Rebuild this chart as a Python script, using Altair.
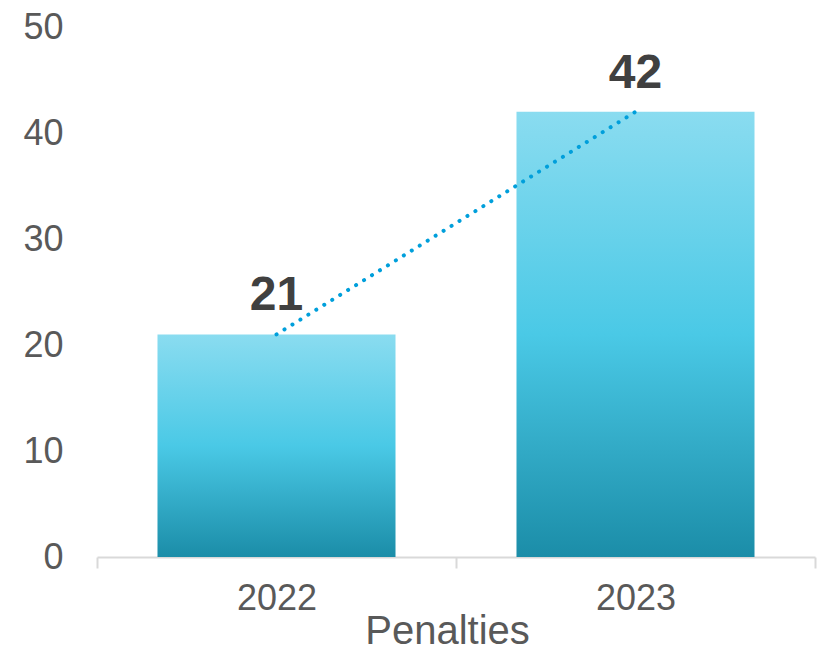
import altair as alt
import pandas as pd

years = ["2022", "2023"]
values = [21, 42]
y_ticks = [0, 10, 20, 30, 40, 50]

df = pd.DataFrame({"year": years, "value": values})

grad = alt.Gradient(
    gradient="linear",
    x1=0, x2=0, y1=0, y2=1,
    stops=[
        alt.GradientStop(color="#8ADCF0", offset=0),
        alt.GradientStop(color="#4AC9E6", offset=0.5),
        alt.GradientStop(color="#1B8DA8", offset=1),
    ],
)

x_enc = alt.X(
    "year:N",
    scale=alt.Scale(paddingInner=0, paddingOuter=0),
    axis=alt.Axis(
        title="Penalties",
        labelAngle=0,
        labelFont="Liberation Sans",
        labelFontSize=36,
        labelColor="#595959",
        labelPadding=13,
        titleFont="Liberation Sans",
        titleFontSize=40,
        titleFontWeight="normal",
        titleColor="#595959",
        titlePadding=-5,
        titleX=350,
        domainColor="#D9D9D9",
        domainWidth=2,
        tickColor="#D9D9D9",
        tickWidth=2,
        tickSize=11,
        tickBand="extent",
    ),
)
y_enc = alt.Y(
    "value:Q",
    scale=alt.Scale(domain=[0, 50]),
    axis=alt.Axis(
        title=None,
        values=y_ticks,
        grid=False,
        domain=False,
        ticks=False,
        labelFont="Liberation Sans",
        labelFontSize=36,
        labelColor="#595959",
        labelPadding=34,
    ),
)

base = alt.Chart(df).encode(x=x_enc, y=y_enc)

bars = base.mark_bar(width={"band": 0.663}, color=grad)
line = base.mark_line(
    color="#009FDB", strokeWidth=4, strokeDash=[0.1, 9.26], strokeCap="round"
)
text = base.mark_text(
    dy=-24, baseline="alphabetic", font="Liberation Sans", fontSize=48,
    fontWeight="bold", color="#404040"
).encode(text="value:Q")

chart = (
    alt.layer(bars, line, text)
    .properties(
        width=718,
        height=530,
        autosize=alt.AutoSizeParams(type="none"),
        padding={"left": 97, "top": 27, "right": 6, "bottom": 90},
    )
    .configure_view(stroke=None)
)

chart.save("out.html", embed_options={"renderer": "svg", "actions": False})
